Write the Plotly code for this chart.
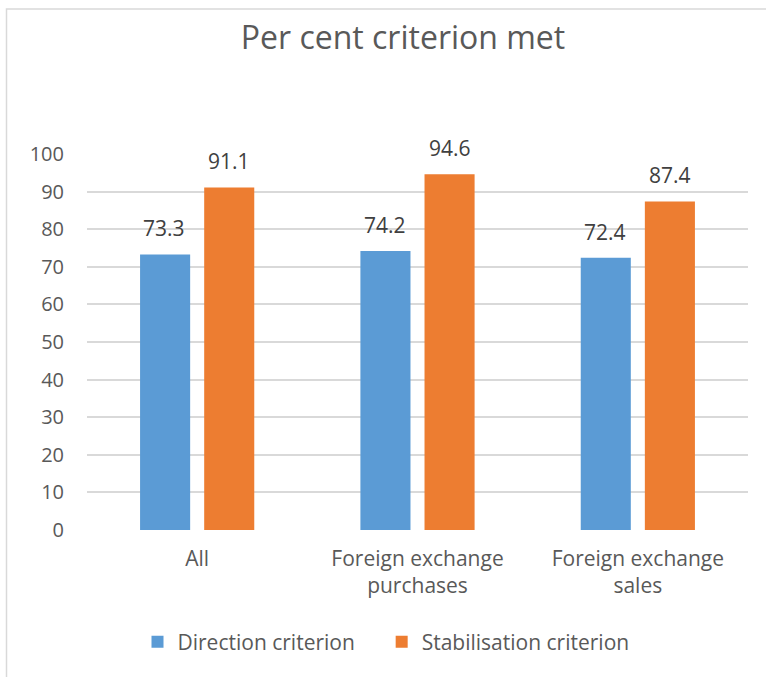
import plotly.graph_objects as go

categories = ["All", "Foreign exchange<br>purchases", "Foreign exchange<br>sales"]
direction = [73.3, 74.2, 72.4]
stabilisation = [91.1, 94.6, 87.4]
series_names = ["Direction criterion\u00a0\u00a0\u00a0\u00a0", "Stabilisation criterion"]
yticks = list(range(0, 101, 10))

TXT = "#595959"
FONT = "Open Sans"

fig = go.Figure()
fig.add_trace(go.Bar(x=categories, y=direction, name=series_names[0],
                     marker_color="#5B9BD5", marker_line_width=0,
                     offsetgroup="a"))
fig.add_trace(go.Bar(x=categories, y=stabilisation, name=series_names[1],
                     marker_color="#ED7D31", marker_line_width=0,
                     offsetgroup="b"))

W, H = 766, 677
L, R, T, B = 87, 18, 154, 147
pw, ph = W - L - R, H - T - B

def px(x):
    return (x - L) / pw

def py(y):
    return (H - B - y) / ph

annotations = []
for vals, xs in ((direction, -33), (stabilisation, 32)):
    for c, v in zip(categories, vals):
        annotations.append(dict(x=c, y=v, xref="x", yref="y", text=f"{v:.1f}",
                                showarrow=False, yanchor="bottom", xshift=xs, yshift=10,
                                font=dict(size=21, color="#404040", family=FONT)))

fig.update_layout(
    width=W, height=H,
    margin=dict(l=L, r=R, t=T, b=B),
    paper_bgcolor="white", plot_bgcolor="white",
    font=dict(family=FONT, color=TXT, size=20),
    title=dict(text="Per cent criterion met", x=403 / W, xref="container", xanchor="center",
               y=1 - 38 / H, yref="container", yanchor="middle",
               font=dict(size=32, color=TXT, family=FONT)),
    barmode="group", bargap=0.418, bargroupgap=0.219,
    showlegend=True,
    legend=dict(orientation="h", x=386 / W, xanchor="center", xref="container",
                y=1 - 642 / H, yref="container", yanchor="middle",
                font=dict(size=21, color=TXT), itemwidth=30, traceorder="normal"),
    xaxis=dict(showline=False, ticks="", ticklabelstandoff=14,
               tickfont=dict(size=21, color=TXT)),
    yaxis=dict(range=[0, 100], tickvals=yticks, showgrid=True, gridcolor="#D9D9D9",
               gridwidth=1.5, zeroline=False, showline=False, ticks="",
               ticklabelstandoff=22, tickfont=dict(size=20, color=TXT)),
    annotations=annotations,
    shapes=[dict(type="rect", xref="paper", yref="paper",
                 x0=px(6.5), x1=px(800), y0=py(720), y1=py(9),
                 line=dict(color="#D9D9D9", width=1.5), fillcolor="rgba(0,0,0,0)",
                 layer="below")],
)

fig.write_html("out.html", config={"displayModeBar": False},
               post_script="document.body.style.margin='0';document.body.style.overflow='hidden';")
